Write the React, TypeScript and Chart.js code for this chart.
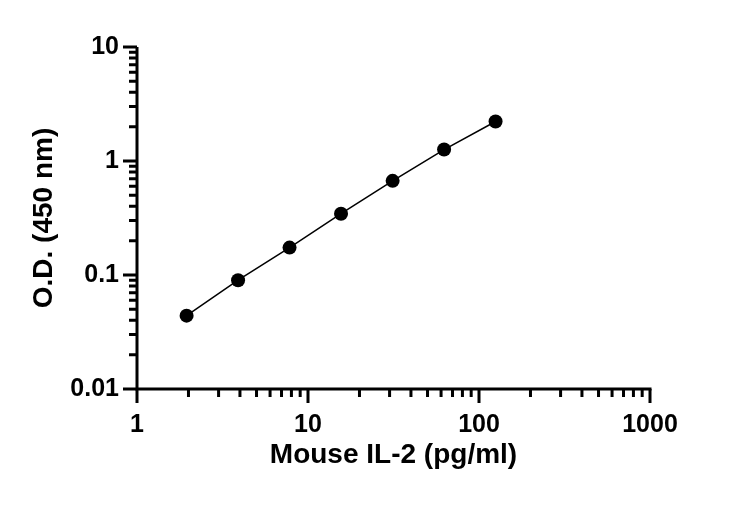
import React, { useEffect, useRef } from "react";
import { Chart, registerables } from "chart.js";

Chart.register(...registerables);

// Data
const concentrations = [1.95, 3.9, 7.8, 15.6, 31.25, 62.5, 125];
const odValues = [0.044, 0.090, 0.174, 0.345, 0.67, 1.26, 2.22];

// Axis ticks
const xMajorTicks = [1, 10, 100, 1000];
const xTickLabels = ["1", "10", "100", "1000"];
const yMajorTicks = [0.01, 0.1, 1, 10];
const yTickLabels = ["0.01", "0.1", "1", "10"];
const minorSteps = [2, 3, 4, 5, 6, 7, 8, 9];

const xTitle = "Mouse IL-2 (pg/ml)";
const yTitle = "O.D. (450 nm)";

const FONT = "'Liberation Sans', Arial, sans-serif";

function buildTickValues(majors: number[]) {
  const vals: { value: number; major: boolean }[] = [];
  majors.forEach((m, i) => {
    vals.push({ value: m, major: true });
    if (i < majors.length - 1) {
      minorSteps.forEach((s) => vals.push({ value: m * s, major: false }));
    }
  });
  return vals;
}

const MAJOR_LEN = 14;
const MINOR_LEN = 8;

const axisPlugin = {
  id: "prismAxes",
  afterDraw(chart: any) {
    const { ctx, chartArea } = chart;
    const xs = chart.scales.x;
    const ys = chart.scales.y;
    ctx.save();
    ctx.strokeStyle = "#000";
    ctx.lineWidth = 3;
    ctx.lineCap = "butt";
    // axis lines
    ctx.beginPath();
    ctx.moveTo(chartArea.left, chartArea.top);
    ctx.lineTo(chartArea.left, chartArea.bottom + 1.5);
    ctx.moveTo(chartArea.left - 1.5, chartArea.bottom);
    ctx.lineTo(chartArea.right + 1.5, chartArea.bottom);
    ctx.stroke();
    // x ticks
    ctx.beginPath();
    xs.ticks.forEach((t: any) => {
      const px = xs.getPixelForValue(t.value);
      const len = t.major ? MAJOR_LEN : MINOR_LEN;
      ctx.moveTo(px, chartArea.bottom);
      ctx.lineTo(px, chartArea.bottom + len);
    });
    // y ticks
    ys.ticks.forEach((t: any) => {
      const py = ys.getPixelForValue(t.value);
      const len = t.major ? MAJOR_LEN : MINOR_LEN;
      ctx.moveTo(chartArea.left, py);
      ctx.lineTo(chartArea.left - len, py);
    });
    ctx.stroke();
    ctx.restore();
  },
};

export default function App() {
  const canvasRef = useRef<HTMLCanvasElement>(null);

  useEffect(() => {
    document.body.style.margin = "0";
    const canvas = canvasRef.current;
    if (!canvas) return;
    const chart = new Chart(canvas, {
      type: "scatter",
      data: {
        datasets: [
          {
            data: concentrations.map((x, i) => ({ x, y: odValues[i] })),
            showLine: true,
            borderColor: "#000",
            borderWidth: 1.5,
            backgroundColor: "#000",
            pointBackgroundColor: "#000",
            pointBorderColor: "#000",
            pointRadius: 7,
            pointBorderWidth: 0,
            tension: 0,
          },
        ],
      },
      options: {
        animation: false,
        responsive: false,
        devicePixelRatio: 1,
        layout: { padding: { left: 0, right: 81, top: 47, bottom: 0 } },
        plugins: {
          legend: { display: false },
          tooltip: { enabled: false },
        },
        scales: {
          x: {
            type: "logarithmic",
            position: "bottom",
            min: 1,
            max: 1000,
            afterBuildTicks: (scale: any) => {
              scale.ticks = buildTickValues(xMajorTicks);
            },
            afterFit: (scale: any) => {
              scale.height = 118;
            },
            border: { display: false },
            grid: {
              display: true,
              drawOnChartArea: false,
              drawTicks: true,
              tickLength: MAJOR_LEN,
              tickColor: "rgba(0,0,0,0)",
            },
            ticks: {
              autoSkip: false,
              maxRotation: 0,
              minRotation: 0,
              padding: 7,
              color: "#000",
              font: { family: FONT, size: 25, weight: "bold" },
              callback: (value: any) => {
                const i = xMajorTicks.indexOf(Number(value));
                return i >= 0 ? xTickLabels[i] : "";
              },
            },
            title: {
              display: true,
              text: xTitle,
              color: "#000",
              font: { family: FONT, size: 28, weight: "bold" },
              padding: { top: 0, bottom: 35 },
            },
          },
          y: {
            type: "logarithmic",
            position: "left",
            min: 0.01,
            max: 10,
            afterBuildTicks: (scale: any) => {
              scale.ticks = buildTickValues(yMajorTicks);
            },
            afterFit: (scale: any) => {
              scale.width = 137;
            },
            border: { display: false },
            grid: {
              display: true,
              drawOnChartArea: false,
              drawTicks: true,
              tickLength: MAJOR_LEN,
              tickColor: "rgba(0,0,0,0)",
            },
            ticks: {
              autoSkip: false,
              padding: 4,
              color: "#000",
              font: { family: FONT, size: 25, weight: "bold" },
              callback: (value: any) => {
                const v = Number(value);
                const i = yMajorTicks.findIndex((m) => Math.abs(m - v) / m < 1e-6);
                return i >= 0 ? yTickLabels[i] : "";
              },
            },
            title: {
              display: true,
              text: yTitle,
              color: "#000",
              font: { family: FONT, size: 28, weight: "bold" },
              padding: { top: 27, bottom: 0 },
            },
          },
        },
      },
      plugins: [axisPlugin],
    });
    return () => chart.destroy();
  }, []);

  return (
    <div style={{ width: 731, height: 507, background: "#fff" }}>
      <canvas ref={canvasRef} width={731} height={507} />
    </div>
  );
}
